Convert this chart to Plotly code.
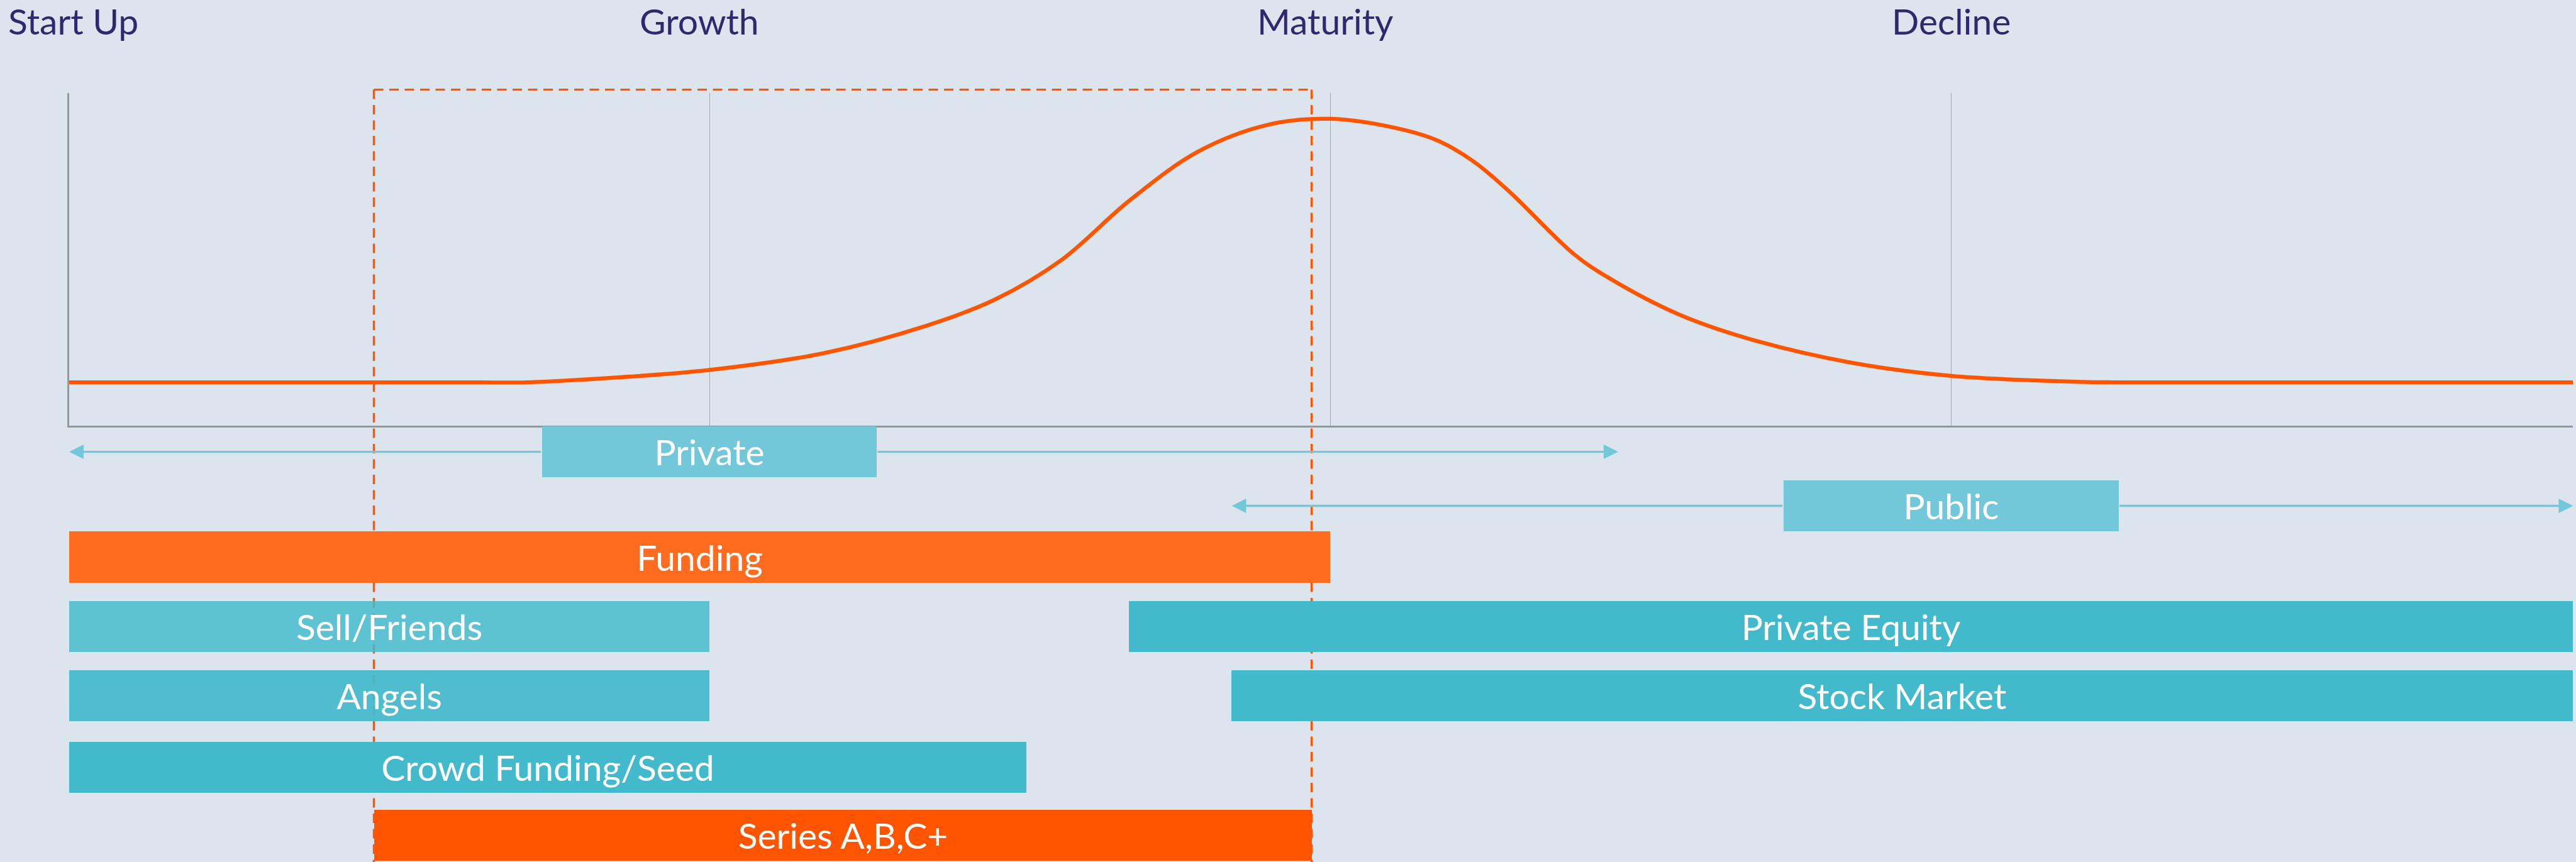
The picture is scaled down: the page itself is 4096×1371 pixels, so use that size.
import plotly.graph_objects as go

# ---------------- data (timeline in % of the horizon) ----------------
stages = ["Start Up", "Growth", "Maturity", "Decline"]
stage_grid_x = [25.57, 50.38, 75.17]          # vertical guide lines (Growth, Maturity, Decline)
stage_label_x = [0.17, 25.16, 50.16, 75.17]   # where the stage titles sit

curve_x = [0, 9.0, 16.0, 18.30, 21.86, 25.57, 30.12, 34.24, 37.00, 39.61, 42.35,
           45.11, 47.87, 50.36, 53.35, 54.74, 56.12, 57.50, 60.11, 61.47, 64.23,
           66.99, 71.11, 75.17, 80.30, 81.70, 90.0, 100]
curve_y = [13.0, 13.0, 13.0, 13.0, 14.45, 16.72, 21.75, 30.03, 37.99, 49.68, 67.69,
           82.47, 90.42, 92.21, 88.80, 85.39, 79.22, 70.45, 51.46, 44.48, 33.60,
           26.30, 19.00, 14.94, 13.15, 13.0, 13.0, 13.0]

bar_labels = ["Private", "Public", "Funding", "Sell/Friends", "Angels",
              "Crowd Funding/Seed", "Series A,B,C+", "Private Equity", "Stock Market"]
bar_start = [18.88, 68.46, 0.0, 0.0, 0.0, 0.0, 12.17, 42.31, 46.41]
bar_end = [32.25, 81.85, 50.36, 25.57, 25.57, 38.23, 49.62, 100.0, 100.0]

# arrows of the Private / Public spans
private_span = [0.0, 61.86]
public_span = [46.43, 100.0]

# ---------------- layout / style ----------------
BG = "#dce4ed"
NAVY = "#2b2a6e"
ORANGE = "#ff5500"
FONT = "Lato"
FS = 57

row_pos = [-1.523, -0.742, 0.0, 1.004, 2.004, 3.039, 4.023, 1.004, 2.004]
bar_colors = ["#72c7d8", "#72c7d8", "#ff6c20", "#43bacc", "#43bacc",
              "#43bacc", "#ff5500", "#43bacc", "#43bacc"]
bar_opacity = [1, 1, 1, 0.83, 0.92, 1, 1, 1, 1]

fig = go.Figure()

fig.add_trace(go.Scatter(
    x=curve_x, y=curve_y, mode="lines",
    line=dict(color=ORANGE, width=6.3, shape="spline", smoothing=1.0),
    xaxis="x", yaxis="y", hoverinfo="skip", showlegend=False))

fig.add_trace(go.Bar(
    orientation="h",
    y=row_pos,
    base=bar_start,
    x=[e - s for s, e in zip(bar_start, bar_end)],
    width=0.742,
    marker=dict(color=bar_colors, opacity=bar_opacity, line=dict(width=0)),
    text=bar_labels,
    textposition="inside",
    insidetextanchor="middle",
    constraintext="none",
    textfont=dict(family=FONT, size=FS, color="white"),
    xaxis="x2", yaxis="y2", hoverinfo="skip", showlegend=False))

annotations = []
for name, xv in zip(stages, stage_label_x):
    annotations.append(dict(
        text=name, x=xv, xref="x", y=1.0, yref="paper",
        xanchor="center", yanchor="top", yshift=3, showarrow=False,
        font=dict(family=FONT, size=FS, color=NAVY)))

# arrows (drawn from the box edges outwards)
arrow_style = dict(showarrow=True, arrowhead=2, arrowsize=1.35, arrowwidth=3.4,
                   arrowcolor="#72c7d8", text="", xref="x2", yref="y2",
                   axref="x2", ayref="y2", standoff=0, startstandoff=0)
for (lo, hi), (bs, be), yrow in [(private_span, (bar_start[0], bar_end[0]), row_pos[0]),
                                 (public_span, (bar_start[1], bar_end[1]), row_pos[1])]:
    annotations.append(dict(x=lo, y=yrow, ax=bs, ay=yrow, **arrow_style))
    annotations.append(dict(x=hi, y=yrow, ax=be, ay=yrow, **arrow_style))

# dashed frame around the Series A,B,C+ window
x_lo, x_hi = bar_start[6], bar_end[6]
dash_line = dict(color=ORANGE, width=3.4, dash="15px,9.5px")
top_y = 0.896
shapes = [
    dict(type="line", xref="x", yref="paper", x0=x_lo, x1=x_lo, y0=top_y, y1=-0.01,
         line=dash_line, layer="below"),
    dict(type="line", xref="x", yref="paper", x0=x_hi, x1=x_hi, y0=top_y, y1=-0.01,
         line=dash_line, layer="below"),
    dict(type="line", xref="x", yref="paper", x0=x_lo, x1=x_hi, y0=top_y, y1=top_y,
         line=dash_line, layer="below"),
]

x_dom = [110.0 / 4096, 4091.4 / 4096]
fig.update_layout(
    width=4096, height=1371, autosize=False,
    margin=dict(l=0, r=0, t=0, b=0, pad=0),
    paper_bgcolor=BG, plot_bgcolor=BG,
    font=dict(family=FONT),
    xaxis=dict(domain=x_dom, range=[0, 100], anchor="y",
               tickvals=stage_grid_x, showticklabels=False, ticks="",
               showgrid=True, gridcolor="#a3a7ab", gridwidth=1.2,
               zeroline=False, showline=True, linecolor="#959595", linewidth=3.2),
    yaxis=dict(domain=[0.50627, 0.89223], range=[0, 100], anchor="x",
               showticklabels=False, ticks="", showgrid=False, zeroline=False,
               showline=True, linecolor="#989898", linewidth=2.8),
    xaxis2=dict(domain=x_dom, range=[0, 100], anchor="y2", visible=False),
    yaxis2=dict(domain=[0, 0.50627], range=[4.410, -1.902], anchor="x2", visible=False),
    annotations=annotations,
    shapes=shapes,
    bargap=0,
)

fig.write_html("out.html")
